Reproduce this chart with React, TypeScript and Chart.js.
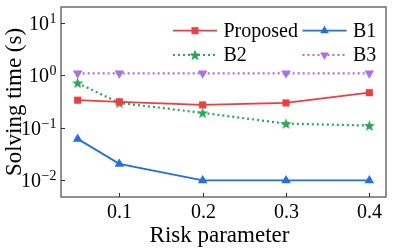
import React, { useEffect, useRef } from "react";
import { Chart, registerables } from "chart.js";

Chart.register(...registerables);

const riskParams = [0.05, 0.1, 0.2, 0.3, 0.4];
const xTickValues = [0.1, 0.2, 0.3, 0.4];
const xTickLabels = ["0.1", "0.2", "0.3", "0.4"];
const yTickExponents = [1, 0, -1, -2];
const proposed = [0.338, 0.315, 0.275, 0.3, 0.47];
const b1 = [0.062, 0.0207, 0.01, 0.01, 0.01];
const b2 = [0.72, 0.3, 0.194, 0.121, 0.111];
const b3 = [1.1, 1.1, 1.1, 1.1, 1.1];

const RED = "#ef3d42";
const BLUE = "#1f6fe6";
const GREEN = "#2aa65a";
const PURPLE = "#ad6fe6";
const FONT = "'Liberation Serif', 'Times New Roman', serif";

function starPath(ctx: CanvasRenderingContext2D, cx: number, cy: number, R: number, r: number) {
  ctx.beginPath();
  for (let i = 0; i < 10; i++) {
    const rad = i % 2 === 0 ? R : r;
    const a = -Math.PI / 2 + (i * Math.PI) / 5;
    const px = cx + rad * Math.cos(a);
    const py = cy + rad * Math.sin(a);
    if (i === 0) ctx.moveTo(px, py);
    else ctx.lineTo(px, py);
  }
  ctx.closePath();
}

function makeStar(color: string) {
  const c = document.createElement("canvas");
  c.width = 13;
  c.height = 13;
  const ctx = c.getContext("2d")!;
  starPath(ctx, 6.5, 7, 6, 2.5);
  ctx.fillStyle = color;
  ctx.fill();
  return c;
}

function drawMarker(ctx: CanvasRenderingContext2D, kind: string, x: number, y: number, color: string) {
  ctx.save();
  ctx.fillStyle = color;
  if (kind === "rect") {
    ctx.fillRect(x - 3.5, y - 3.5, 7, 7);
  } else if (kind === "tri") {
    const r = 5;
    ctx.beginPath();
    ctx.moveTo(x, y - r);
    ctx.lineTo(x + r * 0.866, y + r * 0.5);
    ctx.lineTo(x - r * 0.866, y + r * 0.5);
    ctx.closePath();
    ctx.fill();
  } else if (kind === "dtri") {
    const r = 5;
    ctx.beginPath();
    ctx.moveTo(x, y + r);
    ctx.lineTo(x + r * 0.866, y - r * 0.5);
    ctx.lineTo(x - r * 0.866, y - r * 0.5);
    ctx.closePath();
    ctx.fill();
  } else if (kind === "star") {
    starPath(ctx, x, y + 0.5, 6, 2.5);
    ctx.fill();
  }
  ctx.restore();
}

const legendItems = [
  { label: "Proposed", color: RED, kind: "rect", dash: [] as number[], x0: 173, y: 30.7 },
  { label: "B1", color: BLUE, kind: "tri", dash: [] as number[], x0: 302.5, y: 30.7 },
  { label: "B2", color: GREEN, kind: "star", dash: [2, 3], x0: 173, y: 55 },
  { label: "B3", color: PURPLE, kind: "dtri", dash: [2, 3], x0: 302.5, y: 55 },
];

const customPlugin = {
  id: "custom",
  afterDraw(chart: any) {
    const ctx: CanvasRenderingContext2D = chart.ctx;
    const { left, right, top, bottom } = chart.chartArea;
    const xs = chart.scales.x;
    const ys = chart.scales.y;
    ctx.save();
    // frame
    ctx.strokeStyle = "#555";
    ctx.lineWidth = 1.3;
    ctx.strokeRect(left, top, right - left, bottom - top);
    // ticks
    ctx.strokeStyle = "#333";
    ctx.lineWidth = 1;
    ctx.fillStyle = "#000";
    ctx.font = `20px ${FONT}`;
    ctx.textAlign = "center";
    ctx.textBaseline = "alphabetic";
    xTickValues.forEach((v, i) => {
      const px = Math.round(xs.getPixelForValue(v)) + 0.5;
      ctx.beginPath();
      ctx.moveTo(px, bottom);
      ctx.lineTo(px, bottom - 4);
      ctx.stroke();
      ctx.fillText(xTickLabels[i], px, 217.5);
    });
    yTickExponents.forEach((e) => {
      const py = Math.round(ys.getPixelForValue(Math.pow(10, e))) + 0.5;
      ctx.beginPath();
      ctx.moveTo(left, py);
      ctx.lineTo(left + 4, py);
      ctx.stroke();
      const supText = e < 0 ? "\u2212" + Math.abs(e) : String(e);
      ctx.font = `14px ${FONT}`;
      const wSup = ctx.measureText(supText).width;
      ctx.font = `20px ${FONT}`;
      const wBase = ctx.measureText("10").width;
      const rightEdge = 56.5;
      ctx.textAlign = "left";
      ctx.fillText("10", rightEdge - wSup - wBase - 0.5, py + 6.5);
      ctx.font = `14px ${FONT}`;
      ctx.fillText(supText, rightEdge - wSup, py - 0.5);
    });
    // axis titles
    ctx.font = `23px ${FONT}`;
    ctx.textAlign = "center";
    ctx.fillText("Risk parameter", (left + right) / 2 - 4, 242);
    ctx.save();
    ctx.translate(21, (top + bottom) / 2);
    ctx.rotate(-Math.PI / 2);
    ctx.fillText("Solving time (s)", 0, 0);
    ctx.restore();
    // legend
    legendItems.forEach((it) => {
      ctx.save();
      ctx.strokeStyle = it.color;
      ctx.lineWidth = it.dash.length ? 2.2 : 1.8;
      ctx.setLineDash(it.dash);
      ctx.beginPath();
      ctx.moveTo(it.x0, it.y);
      ctx.lineTo(it.x0 + 44, it.y);
      ctx.stroke();
      ctx.restore();
      drawMarker(ctx, it.kind, it.x0 + 22, it.y, it.color);
      ctx.font = `20px ${FONT}`;
      ctx.textAlign = "left";
      ctx.textBaseline = "middle";
      ctx.fillStyle = "#000";
      ctx.fillText(it.label, it.x0 + 50.5, it.y + 1);
      ctx.textBaseline = "alphabetic";
    });
    ctx.restore();
  },
};

export default function App() {
  const ref = useRef<HTMLCanvasElement | null>(null);
  useEffect(() => {
    if (!ref.current) return;
    const star = makeStar(GREEN);
    const toPts = (arr: number[]) => arr.map((v, i) => ({ x: riskParams[i], y: v }));
    const chart = new Chart(ref.current, {
      type: "line",
      data: {
        datasets: [
          {
            label: "Proposed",
            data: toPts(proposed),
            borderColor: RED,
            backgroundColor: RED,
            borderWidth: 1.8,
            pointStyle: "rect",
            pointRadius: 5,
            pointBorderWidth: 0,
            clip: false,
          },
          {
            label: "B1",
            data: toPts(b1),
            borderColor: BLUE,
            backgroundColor: BLUE,
            borderWidth: 1.8,
            pointStyle: "triangle",
            pointRadius: 5.5,
            pointBorderWidth: 0,
            clip: false,
          },
          {
            label: "B2",
            data: toPts(b2),
            borderColor: GREEN,
            backgroundColor: GREEN,
            borderWidth: 2.2,
            borderDash: [2, 3],
            pointStyle: star as any,
            pointRadius: 6,
            pointBorderWidth: 0,
            clip: false,
          },
          {
            label: "B3",
            data: toPts(b3),
            borderColor: PURPLE,
            backgroundColor: PURPLE,
            borderWidth: 2.2,
            borderDash: [2, 3],
            pointStyle: "triangle",
            pointRotation: 180,
            pointRadius: 5.5,
            pointBorderWidth: 0,
            clip: false,
          },
        ] as any,
      },
      options: {
        animation: false,
        responsive: false,
        maintainAspectRatio: false,
        layout: { padding: { top: 7, right: 21, left: 0, bottom: 0 } },
        plugins: { legend: { display: false }, tooltip: { enabled: false } },
        scales: {
          x: {
            type: "linear",
            min: 0.03,
            max: 0.42,
            grid: { display: false },
            border: { display: false },
            ticks: { display: false },
            afterFit: (s: any) => {
              s.height = 55;
            },
          },
          y: {
            type: "logarithmic",
            min: Math.pow(10, -2.315),
            max: Math.pow(10, 1.305),
            grid: { display: false },
            border: { display: false },
            ticks: { display: false },
            afterFit: (s: any) => {
              s.width = 61;
            },
          },
        },
      } as any,
      plugins: [customPlugin],
    });
    return () => chart.destroy();
  }, []);
  return (
    <div style={{ position: "fixed", left: 0, top: 0, width: 407, height: 252, background: "#fff" }}>
      <canvas ref={ref} width={407} height={252} style={{ display: "block", width: 407, height: 252 }} />
    </div>
  );
}
